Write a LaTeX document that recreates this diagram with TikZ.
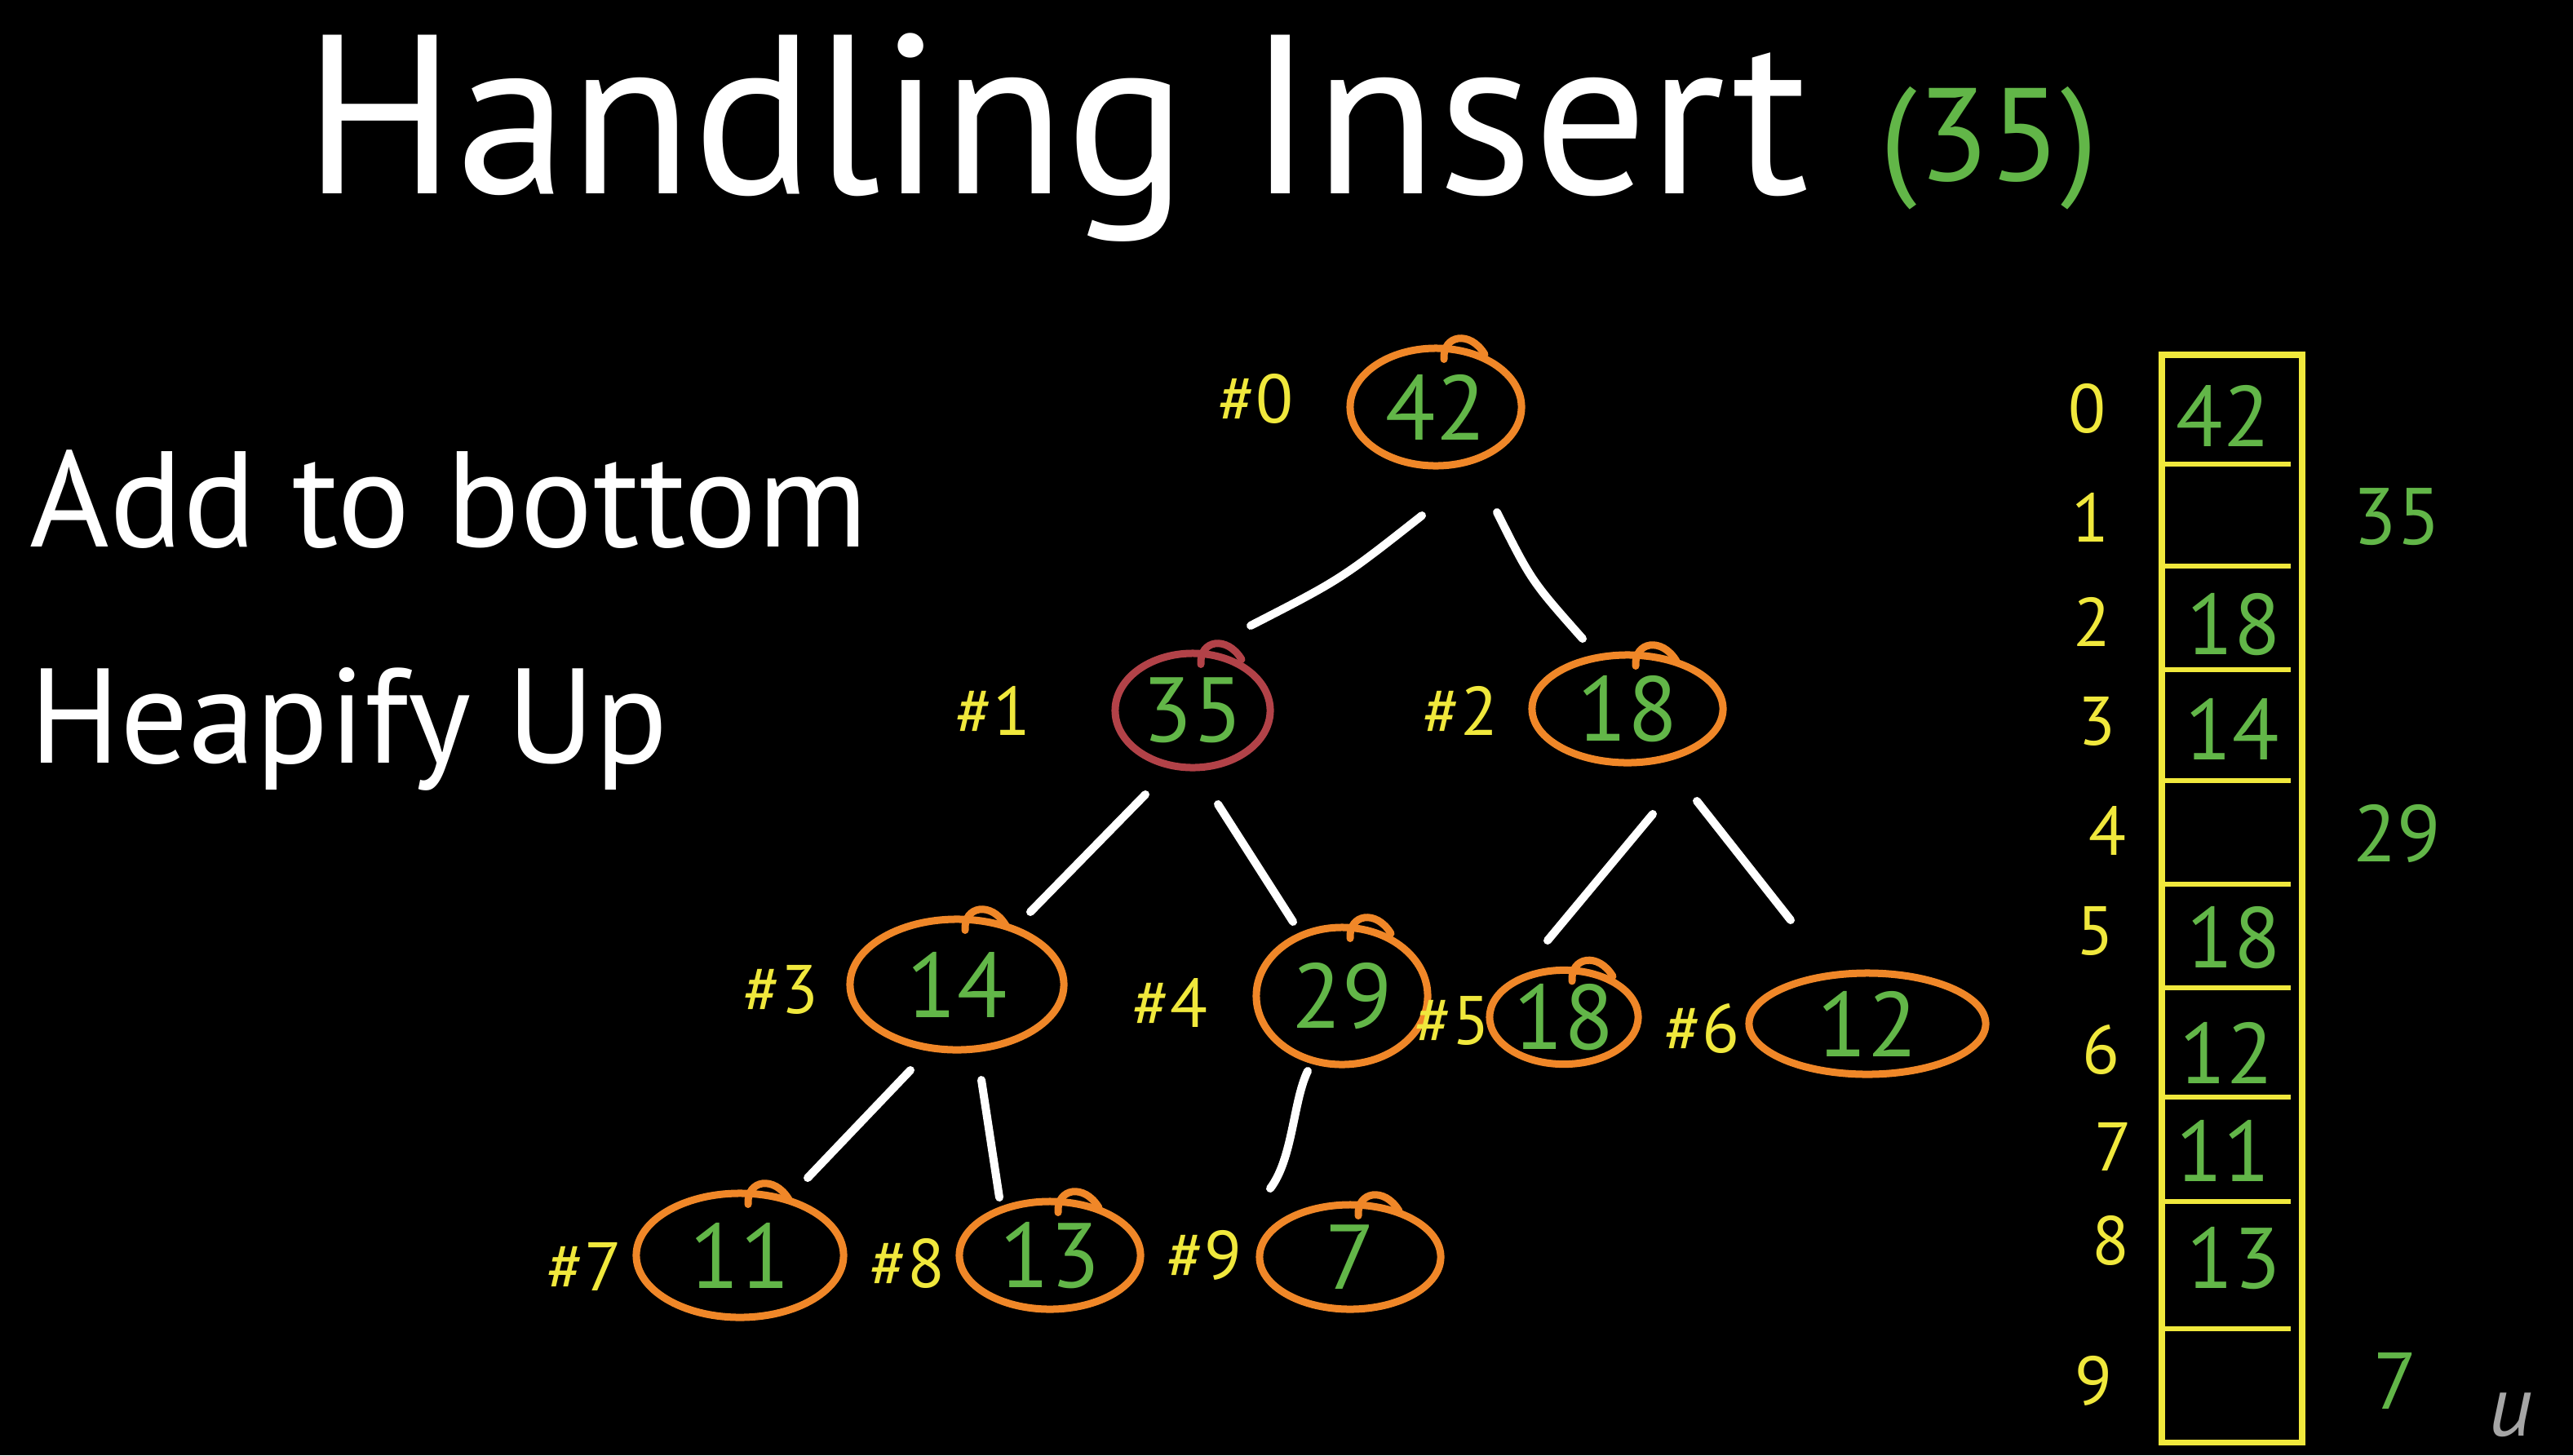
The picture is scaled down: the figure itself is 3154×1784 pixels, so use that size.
\documentclass[tikz,border=0pt]{standalone}
\usepackage{fontspec}
\setmainfont{PT Sans}
\usetikzlibrary{shapes.geometric}
\definecolor{grn}{RGB}{98,182,72}
\definecolor{orng}{RGB}{240,135,40}
\definecolor{mrn}{RGB}{178,66,72}
\definecolor{ylw}{RGB}{240,232,60}
\newcommand{\nodecurl}[2]{\draw[#2, line width=0.09cm, line cap=round] ([shift={(10,18)}]#1.north) .. controls ([shift={(8,-12)}]#1.north) and ([shift={(42,-18)}]#1.north) .. ([shift={(60,12)}]#1.north);}
\begin{document}
\begin{tikzpicture}[x=0.01cm,y=-0.01cm,
  heapnode/.style={ellipse, draw=orng, line width=0.09cm, text=grn,
    font=\fontsize{32}{32}\selectfont, inner sep=0pt},
  hashlbl/.style={text=ylw, font=\fontsize{24}{24}\selectfont, inner sep=0pt},
  idxlbl/.style={text=ylw, font=\fontsize{24}{24}\selectfont, inner sep=0pt},
  cellval/.style={text=grn, font=\fontsize{30}{30}\selectfont, inner sep=0pt},
  sideval/.style={text=grn, font=\fontsize{28}{28}\selectfont, inner sep=0pt},
  treeedge/.style={draw=white, line width=0.1cm, line cap=round},
  arrline/.style={draw=ylw, line width=0.06cm}]
\useasboundingbox (0,0) rectangle (3154,1784);
\fill[black] (0,0) rectangle (3154,1784);

% title and left text
\node[anchor=base west, text=white, inner sep=0pt, font=\fontsize{79}{79}\selectfont] (title) at (372,237) {Handling Insert};
\node[anchor=base west, text=grn, inner sep=0pt, font=\fontsize{46}{46}\selectfont] (ins) at (2304,221) {(35)};
\node[anchor=base west, text=white, inner sep=0pt, font=\fontsize{47.5}{47.5}\selectfont] (step1) at (36,670) {Add to bottom};
\node[anchor=base west, text=white, inner sep=0pt, font=\fontsize{47}{47}\selectfont] (step2) at (36,935) {Heapify Up};

% tree nodes
\node[heapnode, minimum width=2.10cm, minimum height=1.44cm] (n0) at (1760,499) {42};
\node[heapnode, draw=mrn, minimum width=1.90cm, minimum height=1.40cm] (n1) at (1462,871) {35};
\node[heapnode, minimum width=2.34cm, minimum height=1.32cm] (n2) at (1995,869) {18};
\node[heapnode, minimum width=2.62cm, minimum height=1.60cm] (n3) at (1173,1207) {14};
\node[heapnode, minimum width=2.10cm, minimum height=1.68cm] (n4) at (1645,1221) {29};
\node[heapnode, minimum width=1.82cm, minimum height=1.12cm] (n5) at (1917,1247) {18};
\node[heapnode, minimum width=2.90cm, minimum height=1.24cm] (n6) at (2289,1255) {12};
\node[heapnode, minimum width=2.54cm, minimum height=1.52cm] (n7) at (907,1539) {11};
\node[heapnode, minimum width=2.22cm, minimum height=1.32cm] (n8) at (1287,1539) {13};
\node[heapnode, minimum width=2.22cm, minimum height=1.28cm] (n9) at (1655,1541) {7};

\nodecurl{n0}{orng}
\nodecurl{n1}{mrn}
\nodecurl{n2}{orng}
\nodecurl{n3}{orng}
\nodecurl{n4}{orng}
\nodecurl{n5}{orng}
\nodecurl{n7}{orng}
\nodecurl{n8}{orng}
\nodecurl{n9}{orng}

% index labels
\node[hashlbl] (h0) at (1539,489) {\#0};
\node[hashlbl] (h1) at (1217,871) {\#1};
\node[hashlbl] (h2) at (1790,871) {\#2};
\node[hashlbl] (h3) at (957,1213) {\#3};
\node[hashlbl] (h4) at (1434,1229) {\#4};
\node[hashlbl] (h5) at (1780,1251) {\#5};
\node[hashlbl] (h6) at (2086,1261) {\#6};
\node[hashlbl] (h7) at (716,1553) {\#7};
\node[hashlbl] (h8) at (1112,1549) {\#8};
\node[hashlbl] (h9) at (1476,1539) {\#9};

% edges
\draw[treeedge] ([shift={(-17,133)}]n0.center) .. controls ([shift={(-116,211)}]n0.center) .. ([shift={(71,-104)}]n1.center);
\draw[treeedge] ([shift={(75,129)}]n0.center) .. controls ([shift={(117,213)}]n0.center) .. ([shift={(-55,-86)}]n2.center);
\draw[treeedge] ([shift={(-58,103)}]n1.center) -- ([shift={(90,-89)}]n3.center);
\draw[treeedge] ([shift={(31,115)}]n1.center) -- ([shift={(-60,-91)}]n4.center);
\draw[treeedge] ([shift={(31,129)}]n2.center) -- ([shift={(-20,-94)}]n5.center);
\draw[treeedge] ([shift={(85,113)}]n2.center) -- ([shift={(-94,-127)}]n6.center);
\draw[treeedge] ([shift={(-57,105)}]n3.center) -- ([shift={(83,-95)}]n7.center);
\draw[treeedge] ([shift={(30,117)}]n3.center) -- ([shift={(-62,-71)}]n8.center);
\draw[treeedge] ([shift={(-42,92)}]n4.center) .. controls ([shift={(-60,129)}]n4.center) and ([shift={(-60,199)}]n4.center) .. ([shift={(-98,-84)}]n9.center);

% array
\node[draw=ylw, line width=0.075cm, minimum width=1.72cm, minimum height=13.33cm, inner sep=0pt, anchor=north west] (arr) at (2646,431) {};
\foreach \yy in {569,694,821,957,1084,1211,1345,1473,1629}
  \draw[arrline] (2650,\yy) -- (2808,\yy);

\node[cellval] (c0) at (2725,510) {42};
\node[cellval] (c2) at (2738,766) {18};
\node[cellval] (c3) at (2736,894) {14};
\node[cellval] (c5) at (2738,1150) {18};
\node[cellval] (c6) at (2729,1291) {12};
\node[cellval] (c7) at (2725,1411) {11};
\node[cellval] (c8) at (2738,1543) {13};

\node[idxlbl] (i0) at (2558,501) {0};
\node[idxlbl] (i1) at (2562,634) {1};
\node[idxlbl] (i2) at (2564,762) {2};
\node[idxlbl] (i3) at (2570,884) {3};
\node[idxlbl] (i4) at (2583,1018) {4};
\node[idxlbl] (i5) at (2568,1141) {5};
\node[idxlbl] (i6) at (2575,1287) {6};
\node[idxlbl] (i7) at (2590,1406) {7};
\node[idxlbl] (i8) at (2587,1521) {8};
\node[idxlbl] (i9) at (2566,1693) {9};

\node[sideval] (s1) at (2938,634) {35};
\node[sideval] (s4) at (2938,1022) {29};
\node[sideval] (s9) at (2936,1693) {7};

\node[anchor=base west, text=gray!70, inner sep=0pt, font=\itshape\fontsize{30}{30}\selectfont] (wm) at (3050,1760) {u};
\end{tikzpicture}
\end{document}
